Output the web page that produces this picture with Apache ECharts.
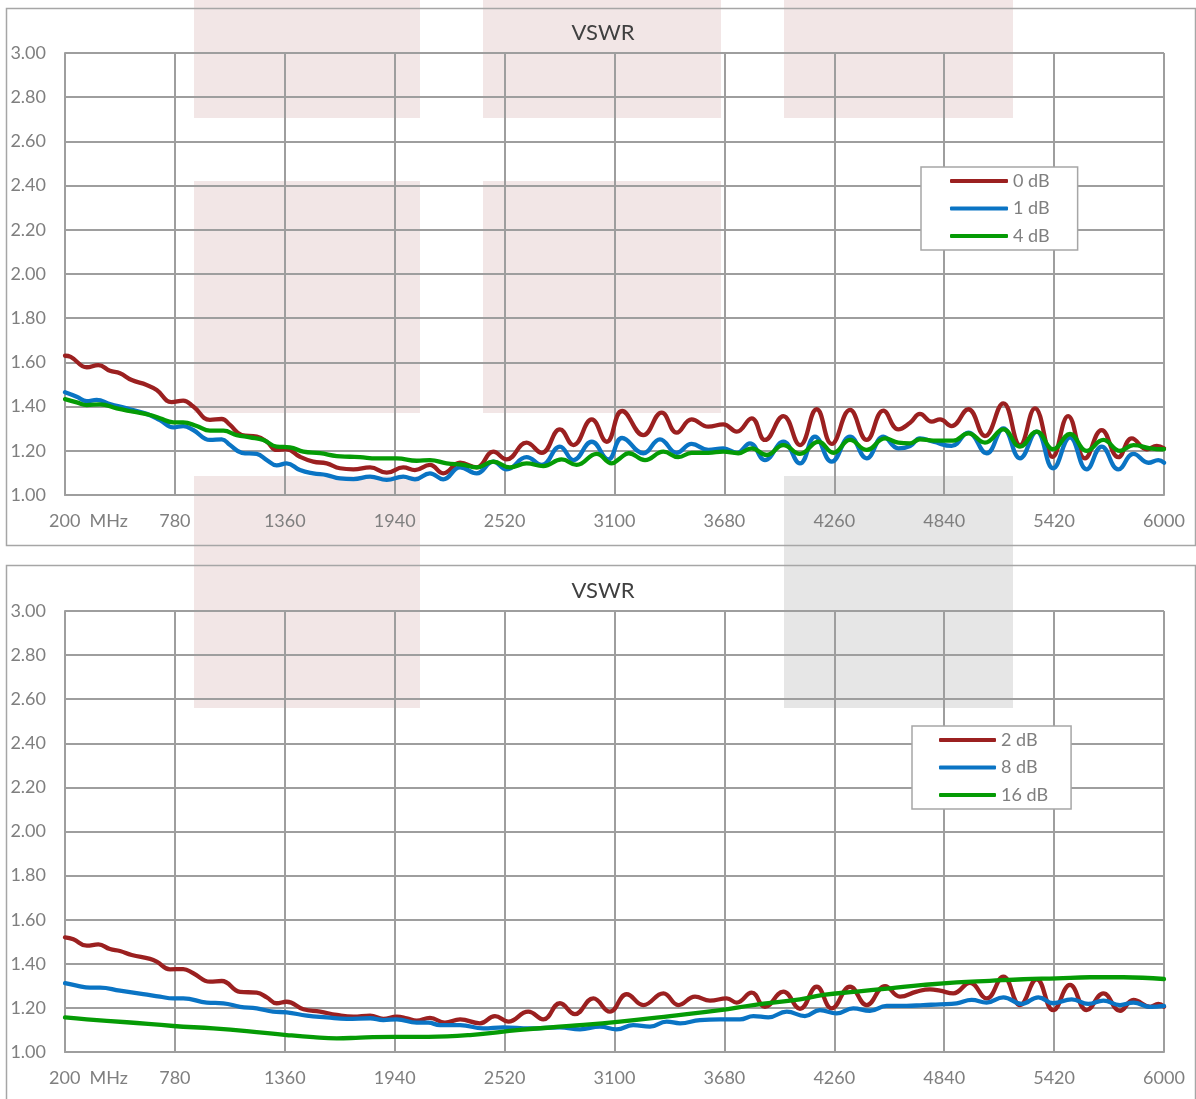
<!DOCTYPE html>
<html><head><meta charset="utf-8">
<script src="https://cdn.jsdelivr.net/npm/echarts@6/dist/echarts.min.js"></script>
<style>html,body{margin:0;padding:0;background:#fff}#c{width:1196px;height:1099px}</style>
</head><body><div id="c"></div>
<script>
// ---------- data ----------
const titleText = 'VSWR';
const xTickValues = [200, 780, 1360, 1940, 2520, 3100, 3680, 4260, 4840, 5420, 6000];
const firstTickSuffix = 'MHz';

const topNames = ['0 dB', '1 dB', '4 dB'];
const bottomNames = ['2 dB', '8 dB', '16 dB'];

const freq0dB = [200,230,315,376,437,490,552,631,684,763,824,877,965,1027,1071,1133,1212,1265,1317,1370,1440,1510,1581,1651,1722,1810,1898,1985,2047,2126,2196,2285,2373,2460,2531,2636,2716,2812,2883,2980,3059,3140,3252,3349,3428,3507,3595,3674,3745,3824,3894,3991,4079,4167,4246,4343,4431,4519,4598,4660,4712,4774,4818,4879,4967,5055,5152,5240,5319,5412,5494,5583,5671,5759,5830,5910,5962,6000];
const vswr0dB = [1.630,1.625,1.578,1.588,1.562,1.551,1.520,1.498,1.475,1.420,1.427,1.400,1.340,1.344,1.317,1.271,1.264,1.241,1.204,1.207,1.173,1.151,1.143,1.121,1.116,1.125,1.101,1.125,1.113,1.136,1.098,1.146,1.125,1.196,1.161,1.237,1.191,1.297,1.226,1.342,1.241,1.380,1.271,1.373,1.282,1.342,1.309,1.320,1.287,1.347,1.249,1.357,1.226,1.388,1.231,1.385,1.249,1.382,1.297,1.327,1.367,1.332,1.342,1.312,1.388,1.267,1.415,1.226,1.392,1.173,1.357,1.166,1.294,1.171,1.256,1.207,1.222,1.211];

const freq1dB = [200,262,315,367,437,526,631,701,772,824,877,965,1027,1071,1133,1212,1265,1317,1370,1440,1510,1581,1651,1722,1810,1898,1985,2047,2126,2196,2285,2373,2460,2531,2636,2716,2812,2883,2980,3067,3140,3252,3340,3428,3507,3595,3674,3745,3815,3894,3991,4079,4158,4246,4343,4431,4519,4598,4660,4712,4783,4879,4967,5064,5152,5240,5328,5415,5504,5592,5671,5759,5839,5918,5970,6000];
const vswr1dB = [1.465,1.445,1.425,1.430,1.412,1.392,1.367,1.339,1.306,1.312,1.294,1.249,1.252,1.226,1.191,1.186,1.158,1.134,1.143,1.113,1.098,1.090,1.075,1.072,1.083,1.068,1.083,1.071,1.098,1.071,1.125,1.098,1.151,1.116,1.171,1.136,1.219,1.158,1.241,1.161,1.258,1.189,1.252,1.191,1.231,1.204,1.211,1.191,1.234,1.158,1.241,1.143,1.264,1.151,1.264,1.166,1.264,1.211,1.222,1.256,1.241,1.222,1.282,1.189,1.301,1.166,1.287,1.121,1.261,1.116,1.219,1.116,1.186,1.146,1.158,1.146];

const freq4dB = [200,262,315,385,473,560,649,701,772,824,895,965,1036,1106,1176,1247,1317,1387,1458,1546,1634,1704,1757,1845,1951,2056,2126,2214,2302,2373,2460,2548,2636,2724,2821,2900,3006,3085,3129,3175,3261,3358,3437,3507,3595,3674,3753,3824,3903,3991,4079,4176,4255,4343,4431,4528,4598,4660,4712,4783,4888,4967,5055,5152,5240,5328,5415,5504,5592,5680,5768,5839,5927,6000];
const vswr4dB = [1.434,1.419,1.407,1.410,1.392,1.377,1.362,1.347,1.329,1.329,1.312,1.291,1.291,1.271,1.261,1.249,1.219,1.216,1.196,1.189,1.176,1.173,1.171,1.166,1.166,1.155,1.158,1.143,1.136,1.125,1.151,1.125,1.143,1.131,1.161,1.136,1.186,1.143,1.166,1.189,1.158,1.196,1.171,1.191,1.191,1.196,1.189,1.211,1.181,1.226,1.186,1.241,1.191,1.249,1.204,1.256,1.237,1.234,1.252,1.246,1.246,1.279,1.237,1.297,1.219,1.287,1.207,1.276,1.200,1.249,1.200,1.226,1.211,1.207];

const freq2dB = [200,244,315,376,437,490,552,649,684,754,824,877,965,1027,1124,1212,1265,1317,1370,1458,1546,1634,1722,1810,1880,1951,2003,2056,2126,2205,2285,2390,2469,2539,2645,2724,2812,2891,2988,3076,3164,3252,3358,3437,3525,3604,3692,3745,3824,3894,3991,4079,4167,4246,4343,4431,4528,4607,4695,4765,4818,4888,4976,5064,5152,5240,5328,5415,5504,5592,5680,5768,5839,5927,5970,6000];
const vswr2dB = [1.520,1.511,1.482,1.488,1.467,1.458,1.440,1.422,1.410,1.375,1.376,1.357,1.319,1.322,1.273,1.269,1.248,1.221,1.228,1.194,1.183,1.168,1.160,1.165,1.150,1.160,1.153,1.142,1.155,1.133,1.148,1.130,1.163,1.138,1.183,1.148,1.221,1.172,1.243,1.183,1.262,1.213,1.266,1.213,1.251,1.233,1.243,1.224,1.269,1.205,1.274,1.196,1.296,1.198,1.296,1.213,1.299,1.251,1.274,1.284,1.278,1.266,1.314,1.243,1.342,1.213,1.330,1.190,1.304,1.190,1.266,1.187,1.236,1.205,1.218,1.205];

const freq8dB = [200,262,332,385,490,613,701,772,824,948,1036,1124,1212,1299,1370,1476,1581,1687,1810,1880,1951,2056,2117,2179,2285,2408,2513,2653,2812,2918,3023,3111,3199,3287,3375,3446,3551,3657,3762,3833,3912,4009,4105,4184,4272,4360,4448,4536,4642,4730,4818,4906,4985,5064,5152,5249,5337,5415,5513,5600,5680,5768,5839,5927,6000];
const vswr8dB = [1.312,1.301,1.292,1.292,1.278,1.263,1.251,1.243,1.243,1.224,1.221,1.205,1.198,1.183,1.180,1.165,1.157,1.150,1.153,1.145,1.148,1.133,1.133,1.122,1.122,1.107,1.112,1.107,1.112,1.103,1.115,1.103,1.122,1.115,1.138,1.130,1.145,1.148,1.148,1.163,1.157,1.183,1.163,1.190,1.175,1.198,1.187,1.209,1.209,1.213,1.216,1.221,1.236,1.224,1.248,1.218,1.248,1.221,1.239,1.218,1.233,1.213,1.224,1.205,1.209];

const freq16dB = [200,315,526,772,983,1159,1370,1510,1634,1757,1933,2117,2337,2601,2865,3129,3393,3657,3833,4079,4202,4378,4554,4730,4906,5081,5258,5433,5609,5785,6000];
const vswr16dB = [1.157,1.148,1.135,1.118,1.107,1.095,1.077,1.067,1.062,1.065,1.069,1.069,1.077,1.100,1.118,1.138,1.163,1.190,1.213,1.239,1.259,1.274,1.289,1.304,1.316,1.323,1.330,1.334,1.339,1.339,1.331];

// ---------- styling ----------
const FONT = 'Lato';
const lineColors = ['#9b2020', '#0a74c4', '#059b05'];
const gridGray = '#9e9e9e';
const labelGray = '#7f7f7f';

function zip(xs, ys) { return xs.map((x, i) => [x, ys[i]]); }

function xAxisCfg(gridIndex) {
  return {
    type: 'value', gridIndex, min: 200, max: 6000,
    axisLine: { show: true, lineStyle: { color: gridGray, width: 2 } },
    axisTick: { show: false, customValues: xTickValues },
    splitLine: { show: true, lineStyle: { color: gridGray, width: 2 } },
    axisLabel: {
      customValues: xTickValues, color: labelGray, fontFamily: FONT, fontSize: 18, margin: 17,
      formatter: v => v === xTickValues[0] ? '{pad|}' + v + '  ' + firstTickSuffix : String(v),
      rich: { pad: { width: 47 } }
    }
  };
}
function yAxisCfg(gridIndex) {
  return {
    type: 'value', gridIndex, min: 1, max: 3, interval: 0.2,
    axisLine: { show: true, lineStyle: { color: gridGray, width: 2 } },
    axisTick: { show: false },
    splitLine: { show: true, lineStyle: { color: gridGray, width: 2 } },
    axisLabel: { color: labelGray, fontFamily: FONT, fontSize: 18, margin: 19, formatter: v => v.toFixed(2) }
  };
}
function lineSeries(name, xs, ys, color, idx) {
  return {
    name, type: 'line', xAxisIndex: idx, yAxisIndex: idx, data: zip(xs, ys),
    showSymbol: false, symbol: 'none', smooth: 0.45, z: 5,
    lineStyle: { color, width: 4.3, cap: 'round', join: 'round' }, itemStyle: { color }
  };
}
function legendCfg(names, left, top, iconW, padRight, padLeft) {
  return {
    data: names, orient: 'vertical', left, top, icon: 'roundRect',
    itemWidth: iconW, itemHeight: 4, itemGap: 7.5,
    padding: [4, padRight, 4, padLeft],
    backgroundColor: '#fff', borderColor: '#a6a6a6', borderWidth: 1.5, borderRadius: 0,
    textStyle: { color: labelGray, fontFamily: FONT, fontSize: 18, lineHeight: 20 }
  };
}

const wmPink = '#f2e6e6', wmGray = '#e6e6e6';
const chart = echarts.init(document.getElementById('c'), null, { renderer: 'canvas' });
chart.setOption({
  animation: false,
  backgroundColor: '#fff',
  graphic: {
    elements: [
      { type: 'rect', z: -10, shape: { x: 194, y: 0, width: 226, height: 118 }, style: { fill: wmPink } },
      { type: 'rect', z: -10, shape: { x: 483, y: 0, width: 238, height: 118 }, style: { fill: wmPink } },
      { type: 'rect', z: -10, shape: { x: 784, y: 0, width: 229, height: 118 }, style: { fill: wmPink } },
      { type: 'rect', z: -10, shape: { x: 194, y: 181, width: 226, height: 232 }, style: { fill: wmPink } },
      { type: 'rect', z: -10, shape: { x: 483, y: 181, width: 238, height: 232 }, style: { fill: wmPink } },
      { type: 'rect', z: -10, shape: { x: 194, y: 476, width: 226, height: 232 }, style: { fill: wmPink } },
      { type: 'rect', z: -10, shape: { x: 784, y: 476, width: 229, height: 232 }, style: { fill: wmGray } },
      { type: 'rect', z: -9, shape: { x: 6.5, y: 8.5, width: 1189, height: 537 }, style: { fill: null, stroke: '#a6a6a6', lineWidth: 1.5 } },
      { type: 'rect', z: -9, shape: { x: 6.5, y: 565.5, width: 1189, height: 560 }, style: { fill: null, stroke: '#a6a6a6', lineWidth: 1.5 } }
    ]
  },
  title: [
    { text: titleText, left: 598, top: 17, textAlign: 'center', textStyle: { fontFamily: FONT, fontSize: 22, fontWeight: 'normal', color: '#404040' } },
    { text: titleText, left: 598, top: 575, textAlign: 'center', textStyle: { fontFamily: FONT, fontSize: 22, fontWeight: 'normal', color: '#404040' } }
  ],
  grid: [
    { left: 65, top: 53, width: 1099, height: 442 },
    { left: 65, top: 611, width: 1099, height: 441 }
  ],
  xAxis: [xAxisCfg(0), xAxisCfg(1)],
  yAxis: [yAxisCfg(0), yAxisCfg(1)],
  legend: [
    legendCfg(topNames, 921, 167, 58, 28, 29),
    legendCfg(bottomNames, 912, 726, 57, 23, 27)
  ],
  series: [
    lineSeries(topNames[0], freq0dB, vswr0dB, lineColors[0], 0),
    lineSeries(topNames[1], freq1dB, vswr1dB, lineColors[1], 0),
    lineSeries(topNames[2], freq4dB, vswr4dB, lineColors[2], 0),
    lineSeries(bottomNames[0], freq2dB, vswr2dB, lineColors[0], 1),
    lineSeries(bottomNames[1], freq8dB, vswr8dB, lineColors[1], 1),
    lineSeries(bottomNames[2], freq16dB, vswr16dB, lineColors[2], 1)
  ]
});
</script></body></html>
